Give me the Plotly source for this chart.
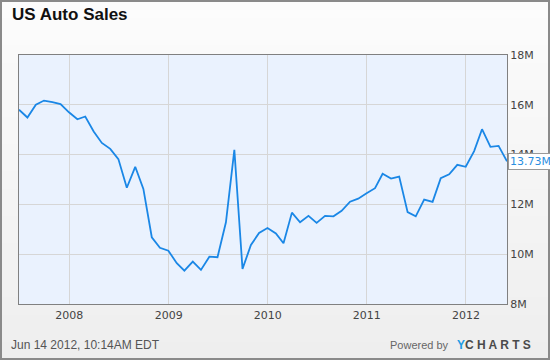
import pandas as pd
import plotly.graph_objects as go

# Monthly US auto sales (SAAR, millions), month-end dates Jun 2007 - May 2012
months = pd.date_range("2007-06-30", periods=60, freq="ME")
sales = [
    15.80, 15.49, 16.00, 16.17, 16.11, 16.03, 15.70,
    15.42, 15.53, 14.93, 14.47, 14.23, 13.82, 12.67, 13.51, 12.62, 10.68, 10.26, 10.14,
    9.64, 9.34, 9.70, 9.37, 9.90, 9.88, 11.28, 14.19, 9.41, 10.37, 10.85, 11.05,
    10.83, 10.44, 11.67, 11.28, 11.54, 11.26, 11.54, 11.52, 11.74, 12.11, 12.23, 12.45,
    12.65, 13.23, 13.04, 13.12, 11.69, 11.52, 12.19, 12.10, 13.05, 13.21, 13.59, 13.51,
    14.14, 15.02, 14.31, 14.35, 13.73,
]
y_ticks = [8, 10, 12, 14, 16, 18]
y_labels = ["8M", "10M", "12M", "14M", "16M", "18M"]
x_ticks = ["2008-01-01", "2009-01-01", "2010-01-01", "2011-01-01", "2012-01-01"]
x_labels = ["2008", "2009", "2010", "2011", "2012"]
last_label = "13.73M"

W, H = 550, 360
ML, MR, MT, MB = 19, 43, 55, 56
PW, PH = W - ML - MR, H - MT - MB


def px(x):
    return (x - ML) / PW


def py(y):
    return (H - MB - y) / PH


shapes = []
# background vertical gradient
n = 40
top_c, bot_c = (252, 252, 252), (238, 238, 238)
for i in range(n):
    t = i / (n - 1)
    c = tuple(round(top_c[k] + (bot_c[k] - top_c[k]) * t) for k in range(3))
    y0 = i * H / n
    y1 = (i + 1) * H / n + 0.6
    shapes.append(dict(type="rect", xref="paper", yref="paper", layer="below",
                       x0=px(0), x1=px(W), y0=py(y1), y1=py(y0),
                       fillcolor="rgb(%d,%d,%d)" % c, line=dict(width=0)))
# plot area fill
shapes.append(dict(type="rect", xref="paper", yref="paper", layer="below",
                   x0=0, x1=1, y0=0, y1=1, fillcolor="#eaf2fe", line=dict(width=0)))
# outer frame
shapes.append(dict(type="rect", xref="paper", yref="paper", layer="above",
                   x0=px(1), x1=px(W - 1), y0=py(H - 1), y1=py(1),
                   fillcolor="rgba(0,0,0,0)", line=dict(color="#8a8a8a", width=2)))

fig = go.Figure()
fig.add_trace(go.Scatter(x=months, y=sales, mode="lines",
                         line=dict(color="#1a87e6", width=1.8), hoverinfo="skip"))

tick_font = dict(family="DejaVu Sans", size=11, color="#444444")
fig.update_layout(
    width=W, height=H,
    margin=dict(l=ML, r=MR, t=MT, b=MB, pad=0),
    paper_bgcolor="#f4f4f4",
    plot_bgcolor="#eaf2fe",
    showlegend=False,
    shapes=shapes,
    xaxis=dict(range=[months[0], months[-1]], tickvals=x_ticks, ticktext=x_labels,
               showgrid=True, gridcolor="#d6d6d6", gridwidth=1,
               showline=True, linecolor="#808080", linewidth=1, mirror=True,
               ticks="outside", ticklen=1, tickcolor="rgba(0,0,0,0)",
               tickfont=tick_font, zeroline=False, fixedrange=True),
    yaxis=dict(range=[8, 18], side="right", tickvals=y_ticks, ticktext=y_labels,
               showgrid=True, gridcolor="#d6d6d6", gridwidth=1,
               showline=True, linecolor="#808080", linewidth=1, mirror=True,
               ticks="", tickfont=tick_font, zeroline=False, fixedrange=True),
    annotations=[
        dict(text="<b>US Auto Sales</b>", xref="paper", yref="paper",
             x=px(10), y=py(3), xanchor="left", yanchor="top", showarrow=False,
             font=dict(family="Liberation Sans", size=17, color="#111111")),
        dict(text=last_label, xref="paper", yref="y", x=1, y=sales[-1],
             xanchor="left", yanchor="middle", xshift=1, showarrow=False,
             bgcolor="#ffffff", bordercolor="#999999", borderwidth=1, borderpad=1,
             font=dict(family="DejaVu Sans", size=11, color="#2a8ee0")),
        dict(text="Jun 14 2012, 10:14AM EDT", xref="paper", yref="paper",
             x=px(9), y=py(345), xanchor="left", yanchor="middle", showarrow=False,
             font=dict(family="Liberation Sans", size=12, color="#555555")),
        dict(text="Powered by", xref="paper", yref="paper",
             x=px(451), y=py(345), xanchor="right", yanchor="middle", showarrow=False,
             font=dict(family="Liberation Sans", size=11, color="#666666")),
        dict(text="<b><span style='color:#1e9be3'>Y</span>C H A R T S</b>", xref="paper", yref="paper",
             x=px(455), y=py(345), xanchor="left", yanchor="middle", showarrow=False,
             font=dict(family="Liberation Sans", size=12, color="#4a4a4a")),
    ],
)

fig.write_html("out.html", config={"displayModeBar": False},
               post_script="document.body.style.margin='0';document.body.style.overflow='hidden';")
